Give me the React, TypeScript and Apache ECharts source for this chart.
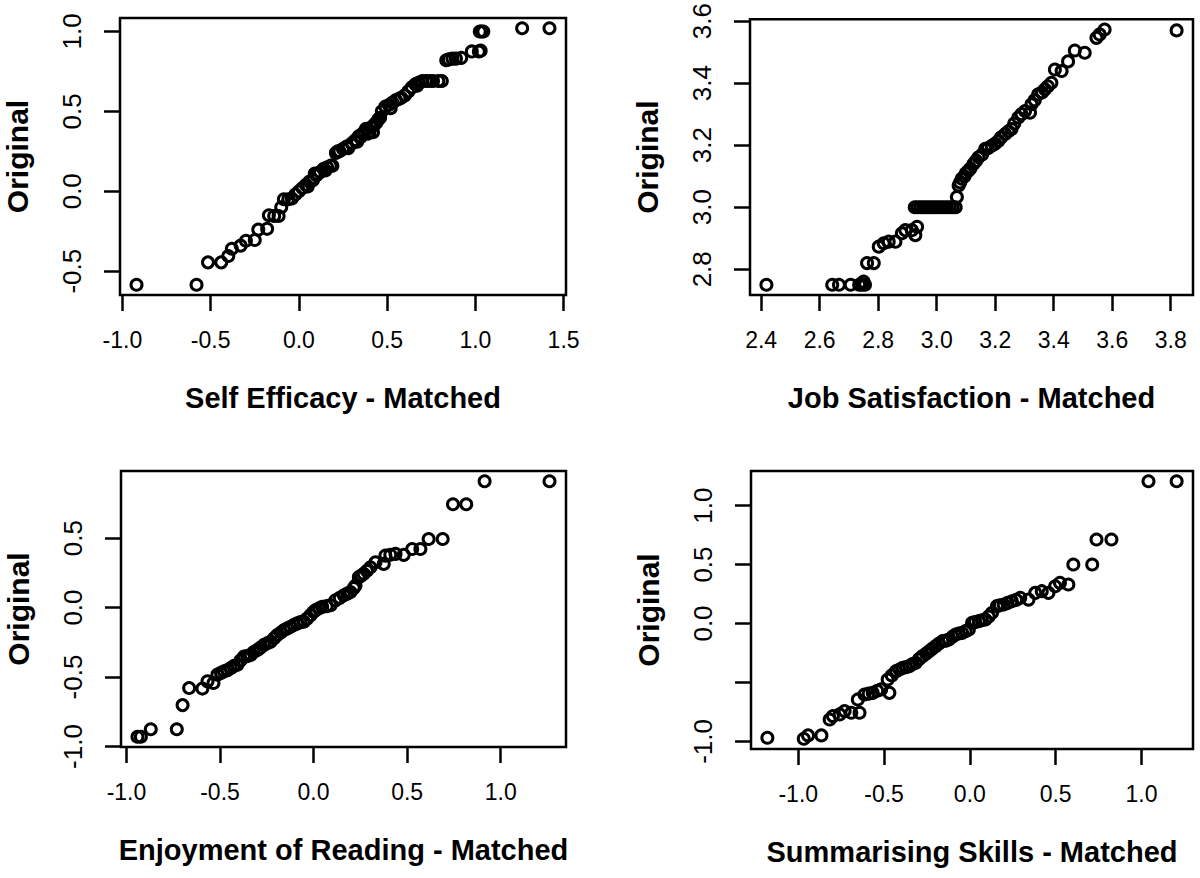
import React, { useEffect, useRef } from "react";
import * as echarts from "echarts";

// ---------- DATA ----------
const xNames = [
  "Self Efficacy - Matched",
  "Job Satisfaction - Matched",
  "Enjoyment of Reading - Matched",
  "Summarising Skills - Matched",
];
const yName = "Original";

const selfEfficacyXTicks = [-1.0, -0.5, 0.0, 0.5, 1.0, 1.5];
const selfEfficacyYTicks = [-0.5, 0.0, 0.5, 1.0];
const selfEfficacyYLabels = [-0.5, 0.0, 0.5, 1.0];
const selfEfficacy: number[][] = [
  [-0.92, -0.585], [-0.58, -0.585], [-0.515, -0.445], [-0.44, -0.445], [-0.4, -0.405],
  [-0.38, -0.36], [-0.33, -0.34], [-0.3, -0.31], [-0.25, -0.305], [-0.23, -0.24],
  [-0.18, -0.235], [-0.17, -0.15], [-0.14, -0.155], [-0.115, -0.155], [-0.1, -0.1],
  [-0.085, -0.05], [-0.06, -0.05], [-0.04, -0.045], [-0.02, -0.02], [0.0, 0.0],
  [0.02, 0.02], [0.04, 0.04], [0.05, 0.03], [0.06, 0.06], [0.08, 0.07], [0.09, 0.11],
  [0.1, 0.1], [0.12, 0.12], [0.14, 0.14], [0.15, 0.13], [0.16, 0.15], [0.18, 0.16],
  [0.19, 0.16], [0.21, 0.24], [0.22, 0.25], [0.23, 0.25], [0.25, 0.265], [0.27, 0.28],
  [0.28, 0.27], [0.3, 0.3], [0.32, 0.32], [0.33, 0.31], [0.34, 0.345], [0.35, 0.34],
  [0.36, 0.36], [0.37, 0.37], [0.38, 0.39], [0.39, 0.36], [0.4, 0.37], [0.41, 0.4],
  [0.42, 0.37], [0.43, 0.42], [0.44, 0.43], [0.45, 0.45], [0.46, 0.46], [0.47, 0.5],
  [0.49, 0.53], [0.51, 0.54], [0.52, 0.52], [0.53, 0.555], [0.55, 0.57], [0.57, 0.58],
  [0.58, 0.585], [0.6, 0.6], [0.62, 0.625], [0.64, 0.65], [0.66, 0.67], [0.67, 0.66],
  [0.68, 0.68], [0.7, 0.69], [0.72, 0.69], [0.74, 0.69], [0.76, 0.69], [0.79, 0.69],
  [0.81, 0.69], [0.835, 0.82], [0.85, 0.825], [0.87, 0.83], [0.89, 0.83], [0.92, 0.835],
  [0.98, 0.875], [1.02, 0.875], [1.03, 0.88], [1.025, 1.0], [1.035, 1.0], [1.045, 1.0],
  [1.265, 1.02], [1.42, 1.02],
];

const jobSatXTicks = [2.4, 2.6, 2.8, 3.0, 3.2, 3.4, 3.6, 3.8];
const jobSatYTicks = [2.8, 3.0, 3.2, 3.4, 3.6];
const jobSatYLabels = [2.8, 3.0, 3.2, 3.4, 3.6];
const jobSatisfaction: number[][] = [
  [2.418, 2.75], [2.643, 2.75], [2.666, 2.75], [2.706, 2.75], [2.735, 2.75],
  [2.745, 2.75], [2.75, 2.76], [2.755, 2.75], [2.762, 2.82], [2.785, 2.82],
  [2.802, 2.873], [2.819, 2.884], [2.836, 2.889], [2.859, 2.889], [2.881, 2.916],
  [2.893, 2.926], [2.915, 2.926], [2.927, 2.91], [2.933, 2.937],
  [2.925, 3.0], [2.935, 3.0], [2.945, 3.0], [2.955, 3.0], [2.965, 3.0],
  [2.975, 3.0], [2.985, 3.0], [2.995, 3.0], [3.005, 3.0], [3.015, 3.0],
  [3.025, 3.0], [3.035, 3.0], [3.045, 3.0], [3.055, 3.0], [3.065, 3.0],
  [3.069, 3.033], [3.075, 3.07], [3.08, 3.08], [3.086, 3.092], [3.095, 3.1],
  [3.1, 3.11], [3.109, 3.118], [3.115, 3.125], [3.126, 3.14], [3.135, 3.15],
  [3.143, 3.161], [3.155, 3.17], [3.166, 3.188], [3.175, 3.19], [3.188, 3.198],
  [3.2, 3.205], [3.211, 3.214], [3.22, 3.225], [3.234, 3.236], [3.245, 3.245],
  [3.256, 3.252], [3.265, 3.27], [3.279, 3.289], [3.29, 3.3], [3.302, 3.31],
  [3.319, 3.305], [3.324, 3.332], [3.335, 3.345], [3.347, 3.364], [3.36, 3.37],
  [3.37, 3.38], [3.38, 3.39], [3.392, 3.401], [3.404, 3.444], [3.427, 3.439],
  [3.449, 3.47], [3.472, 3.505], [3.506, 3.498], [3.546, 3.546], [3.557, 3.557],
  [3.574, 3.573], [3.82, 3.57],
];

const enjoyXTicks = [-1.0, -0.5, 0.0, 0.5, 1.0];
const enjoyYTicks = [-1.0, -0.5, 0.0, 0.5];
const enjoyYLabels = [-1.0, -0.5, 0.0, 0.5];
const enjoymentReading: number[][] = [
  [-0.941, -0.93], [-0.923, -0.93], [-0.87, -0.876], [-0.731, -0.876], [-0.7, -0.702],
  [-0.665, -0.579], [-0.594, -0.583], [-0.567, -0.531], [-0.535, -0.543], [-0.514, -0.483],
  [-0.495, -0.47], [-0.479, -0.459], [-0.46, -0.45], [-0.443, -0.436], [-0.425, -0.42],
  [-0.407, -0.412], [-0.39, -0.38], [-0.372, -0.352], [-0.355, -0.35], [-0.336, -0.341],
  [-0.32, -0.32], [-0.3, -0.305], [-0.285, -0.29], [-0.265, -0.269], [-0.245, -0.255],
  [-0.229, -0.245], [-0.21, -0.22], [-0.194, -0.198], [-0.175, -0.18], [-0.158, -0.162],
  [-0.14, -0.15], [-0.123, -0.138], [-0.105, -0.125], [-0.087, -0.114], [-0.07, -0.105],
  [-0.052, -0.102], [-0.035, -0.08], [-0.016, -0.055], [0.0, -0.03], [0.011, -0.019],
  [0.03, -0.005], [0.046, 0.005], [0.07, 0.01], [0.091, 0.017], [0.117, 0.052],
  [0.14, 0.07], [0.162, 0.088], [0.18, 0.1], [0.197, 0.112], [0.215, 0.14],
  [0.224, 0.159], [0.242, 0.219], [0.255, 0.23], [0.268, 0.243], [0.285, 0.265],
  [0.304, 0.29], [0.331, 0.326], [0.375, 0.314], [0.384, 0.374], [0.41, 0.38],
  [0.438, 0.386], [0.482, 0.379], [0.527, 0.421], [0.571, 0.421], [0.615, 0.493],
  [0.69, 0.493], [0.745, 0.743], [0.816, 0.743], [0.914, 0.909], [1.261, 0.909],
];

const summXTicks = [-1.0, -0.5, 0.0, 0.5, 1.0];
const summYTicks = [-1.0, -0.5, 0.0, 0.5, 1.0];
const summYLabels = [-1.0, 0.0, 0.5, 1.0];
const summarisingSkills: number[][] = [
  [-1.18, -0.969], [-0.968, -0.977], [-0.943, -0.949], [-0.865, -0.949], [-0.817, -0.814],
  [-0.798, -0.785], [-0.759, -0.771], [-0.73, -0.743], [-0.691, -0.757], [-0.643, -0.757],
  [-0.653, -0.644], [-0.614, -0.602], [-0.59, -0.595], [-0.566, -0.588], [-0.54, -0.57],
  [-0.517, -0.559], [-0.469, -0.588], [-0.479, -0.475], [-0.455, -0.44], [-0.43, -0.404],
  [-0.41, -0.39], [-0.392, -0.376], [-0.372, -0.37], [-0.353, -0.362], [-0.335, -0.345],
  [-0.315, -0.333], [-0.295, -0.3], [-0.276, -0.277], [-0.255, -0.255], [-0.238, -0.235],
  [-0.22, -0.215], [-0.199, -0.192], [-0.18, -0.17], [-0.16, -0.15], [-0.14, -0.145],
  [-0.122, -0.136], [-0.1, -0.11], [-0.083, -0.093], [-0.065, -0.085], [-0.045, -0.079],
  [-0.025, -0.065], [-0.006, -0.051], [0.013, 0.006], [0.03, 0.012], [0.052, 0.02],
  [0.07, 0.028], [0.091, 0.034], [0.11, 0.06], [0.129, 0.091], [0.158, 0.147],
  [0.175, 0.155], [0.197, 0.161], [0.22, 0.175], [0.245, 0.189], [0.27, 0.2],
  [0.294, 0.218], [0.342, 0.203], [0.381, 0.26], [0.419, 0.274], [0.458, 0.26],
  [0.497, 0.316], [0.525, 0.345], [0.574, 0.331], [0.603, 0.5], [0.713, 0.5],
  [0.738, 0.712], [0.825, 0.712], [1.041, 1.206], [1.205, 1.206],
];

// ---------- LAYOUT / STYLE ----------
const FONT = "'Liberation Sans', Arial, Helvetica, sans-serif";
const INK = "#000";
const GRIDS = [
  { left: 120, top: 18, width: 446, height: 277 },
  { left: 750, top: 18, width: 443, height: 277 },
  { left: 121, top: 471, width: 445, height: 276 },
  { left: 751, top: 471, width: 442, height: 278 },
];

// R-style axis range: data range extended by 4% on each side
function rRange(vals: number[]): [number, number] {
  const lo = Math.min(...vals);
  const hi = Math.max(...vals);
  const pad = (hi - lo) * 0.04;
  return [lo - pad, hi + pad];
}

const panels = [
  { data: selfEfficacy, xt: selfEfficacyXTicks, yt: selfEfficacyYTicks, yl: selfEfficacyYLabels },
  { data: jobSatisfaction, xt: jobSatXTicks, yt: jobSatYTicks, yl: jobSatYLabels },
  { data: enjoymentReading, xt: enjoyXTicks, yt: enjoyYTicks, yl: enjoyYLabels },
  { data: summarisingSkills, xt: summXTicks, yt: summYTicks, yl: summYLabels },
];

export default function App() {
  const ref = useRef<HTMLDivElement>(null);
  useEffect(() => {
    if (!ref.current) return;
    const chart = echarts.init(ref.current, undefined, { renderer: "svg" });
    const grid: any[] = [];
    const xAxis: any[] = [];
    const yAxis: any[] = [];
    const series: any[] = [];
    panels.forEach((p, i) => {
      grid.push({
        ...GRIDS[i],
        show: true,
        borderColor: INK,
        borderWidth: 2.5,
        backgroundColor: "transparent",
        containLabel: false,
      });
      const [xmin, xmax] = rRange(p.data.map((d) => d[0]));
      const [ymin, ymax] = rRange(p.data.map((d) => d[1]));
      xAxis.push({
        gridIndex: i,
        type: "value",
        min: xmin,
        max: xmax,
        axisLine: { show: false, onZero: false },
        axisTick: { show: true, inside: false, length: 16, lineStyle: { color: INK, width: 2.5 }, customValues: p.xt },
        axisLabel: {
          customValues: p.xt,
          formatter: (v: number) => v.toFixed(1),
          fontSize: 23,
          color: INK,
          margin: 33,
          fontFamily: FONT,
        },
        splitLine: { show: false },
        name: xNames[i],
        nameLocation: "middle",
        nameGap: 88,
        nameTextStyle: { fontSize: 29, fontWeight: "bold", color: INK, fontFamily: FONT },
      });
      yAxis.push({
        gridIndex: i,
        type: "value",
        min: ymin,
        max: ymax,
        axisLine: { show: false, onZero: false },
        axisTick: { show: true, inside: false, length: 16, lineStyle: { color: INK, width: 2.5 }, customValues: p.yt },
        axisLabel: {
          customValues: p.yl,
          formatter: (v: number) => v.toFixed(1),
          rotate: 90,
          fontSize: 26,
          color: INK,
          margin: 35,
          fontFamily: FONT,
        },
        splitLine: { show: false },
        name: yName,
        nameLocation: "middle",
        nameGap: 88,
        nameRotate: 90,
        nameTextStyle: { fontSize: 30, fontWeight: "bold", color: INK, fontFamily: FONT },
      });
      series.push({
        type: "scatter",
        xAxisIndex: i,
        yAxisIndex: i,
        data: p.data,
        symbol: "circle",
        symbolSize: 11,
        silent: true,
        itemStyle: { color: "rgba(0,0,0,0)", borderColor: INK, borderWidth: 3, opacity: 1 },
      });
    });
    chart.setOption({
      animation: false,
      backgroundColor: "#ffffff",
      grid,
      xAxis,
      yAxis,
      series,
    });
    return () => chart.dispose();
  }, []);
  return (
    <div
      ref={ref}
      style={{ position: "absolute", left: 0, top: 0, width: 1200, height: 878, background: "#fff" }}
    />
  );
}
